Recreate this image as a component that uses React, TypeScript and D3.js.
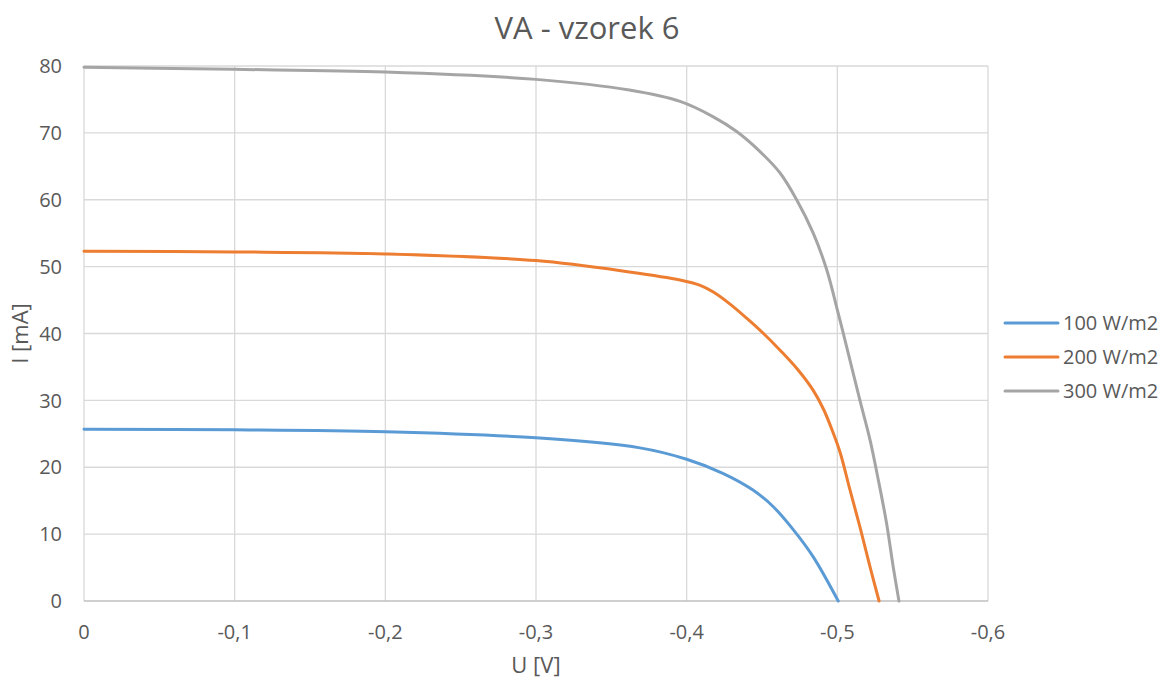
import React, { useEffect, useRef } from 'react';
import * as d3 from 'd3';

// U [V] and I [mA]
const u100 = [0, -0.1, -0.2, -0.3, -0.369, -0.4, -0.424, -0.444, -0.4575, -0.471, -0.484, -0.5006];
const i100 = [25.7, 25.6, 25.3, 24.4, 22.9, 21.2, 19.1, 16.6, 14.1, 10.6, 6.6, 0];

const u200 = [0, -0.1, -0.2, -0.3, -0.362, -0.3956, -0.409, -0.4177, -0.4288, -0.4398, -0.451, -0.462, -0.473, -0.484, -0.491, -0.4973, -0.502, -0.5084, -0.515, -0.5217, -0.5277];
const i200 = [52.3, 52.2, 51.9, 50.9, 49.2, 48.0, 47.2, 46.2, 44.4, 42.3, 40.0, 37.5, 34.8, 31.5, 28.6, 25.1, 22.1, 16.6, 11.1, 5.1, 0];

const u300 = [0, -0.1, -0.2, -0.3, -0.362, -0.3956, -0.4177, -0.4332, -0.4487, -0.462, -0.473, -0.484, -0.493, -0.5006, -0.5073, -0.515, -0.5217, -0.5272, -0.5327, -0.5371, -0.5409];
const i300 = [79.8, 79.5, 79.1, 78.0, 76.4, 74.7, 72.4, 70.2, 67.2, 64.0, 60.0, 55.0, 49.5, 43.0, 37.0, 30.0, 24.1, 18.1, 11.6, 5.1, 0];

const seriesNames = ['100 W/m2', '200 W/m2', '300 W/m2'];
const seriesColors = ['#5b9bd5', '#ed7d31', '#a5a5a5'];
const xTicks = [0, -0.1, -0.2, -0.3, -0.4, -0.5, -0.6];
const yTicks = [0, 10, 20, 30, 40, 50, 60, 70, 80];

const W = 1172;
const H = 684;
const FONT = '"Open Sans", sans-serif';
const TXT = '#595959';

const App = () => {
    const ref = useRef<SVGSVGElement>(null);

    useEffect(() => {
        const svg = d3.select(ref.current);
        svg.selectAll('*').remove();

        const margin = { top: 66, right: 184, bottom: 83, left: 84 };

        const x = d3.scaleLinear().domain([0, -0.6]).range([margin.left, W - margin.right]);
        const y = d3.scaleLinear().domain([0, 80]).range([H - margin.bottom, margin.top]);

        svg.append('rect').attr('width', W).attr('height', H).attr('fill', 'white');

        // gridlines
        svg.append('g')
            .selectAll('line')
            .data(yTicks.filter((d) => d !== 0))
            .join('line')
            .attr('x1', x(0)).attr('x2', x(-0.6))
            .attr('y1', (d) => y(d)).attr('y2', (d) => y(d))
            .attr('stroke', '#d9d9d9').attr('stroke-width', 1.3);

        svg.append('g')
            .selectAll('line')
            .data(xTicks)
            .join('line')
            .attr('x1', (d) => x(d)).attr('x2', (d) => x(d))
            .attr('y1', y(0)).attr('y2', y(80))
            .attr('stroke', '#d9d9d9').attr('stroke-width', 1.3);

        // x axis line
        svg.append('line')
            .attr('x1', x(0)).attr('x2', x(-0.6))
            .attr('y1', y(0)).attr('y2', y(0))
            .attr('stroke', '#bfbfbf').attr('stroke-width', 1.3);

        // tick labels
        svg.append('g')
            .selectAll('text')
            .data(yTicks)
            .join('text')
            .attr('x', 62)
            .attr('y', (d) => y(d))
            .attr('dy', '0.36em')
            .attr('text-anchor', 'end')
            .attr('font-family', FONT).attr('font-size', 20).attr('fill', TXT)
            .text((d) => d);

        svg.append('g')
            .selectAll('text')
            .data(xTicks)
            .join('text')
            .attr('x', (d) => x(d))
            .attr('y', 632)
            .attr('dy', '0.36em')
            .attr('text-anchor', 'middle')
            .attr('font-family', FONT).attr('font-size', 20).attr('fill', TXT)
            .text((d) => (d === 0 ? '0' : String(d).replace('.', ',')));

        // series
        const series = [
            u100.map((u, i) => [u, i100[i]]),
            u200.map((u, i) => [u, i200[i]]),
            u300.map((u, i) => [u, i300[i]]),
        ];

        const line = d3.line<number[]>()
            .x((d) => x(d[0]))
            .y((d) => y(d[1]))
            .curve(d3.curveCatmullRom.alpha(0.5));

        svg.append('g')
            .selectAll('path')
            .data(series)
            .join('path')
            .attr('fill', 'none')
            .attr('stroke', (_, i) => seriesColors[i])
            .attr('stroke-width', 3)
            .attr('stroke-linecap', 'round')
            .attr('d', line);

        // titles
        svg.append('text')
            .attr('x', 587).attr('y', 28)
            .attr('dy', '0.36em')
            .attr('text-anchor', 'middle')
            .attr('font-family', FONT).attr('font-size', 31).attr('fill', TXT)
            .text('VA - vzorek 6');

        svg.append('text')
            .attr('x', x(-0.3)).attr('y', 665)
            .attr('dy', '0.36em')
            .attr('text-anchor', 'middle')
            .attr('font-family', FONT).attr('font-size', 22).attr('fill', TXT)
            .text('U [V]');

        svg.append('text')
            .attr('transform', `translate(20,${y(40)}) rotate(-90)`)
            .attr('dy', '0.36em')
            .attr('text-anchor', 'middle')
            .attr('font-family', FONT).attr('font-size', 22).attr('fill', TXT)
            .text('I [mA]');

        // legend
        const legend = svg.append('g')
            .selectAll('g')
            .data(seriesNames)
            .join('g')
            .attr('transform', (_, i) => `translate(1005,${323 + i * 34})`);

        legend.append('line')
            .attr('x1', 0).attr('x2', 53)
            .attr('stroke', (_, i) => seriesColors[i])
            .attr('stroke-width', 3)
            .attr('stroke-linecap', 'round');

        legend.append('text')
            .attr('x', 58).attr('dy', '0.36em')
            .attr('font-family', FONT).attr('font-size', 20).attr('fill', TXT)
            .text((d) => d);
    }, []);

    return (
        <div style={{ position: 'absolute', left: 0, top: 0 }}>
            <svg ref={ref} width={W} height={H} style={{ display: 'block' }} />
        </div>
    );
};

export default App;
